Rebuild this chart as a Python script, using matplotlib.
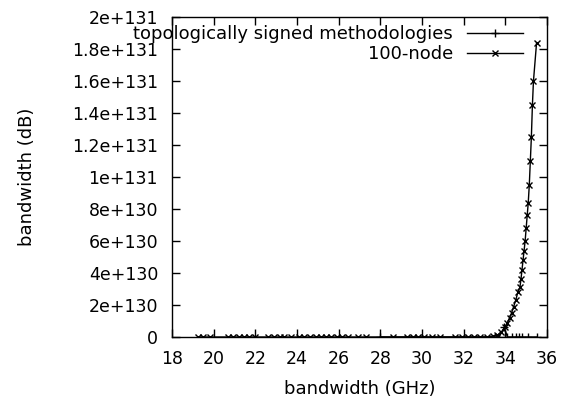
import matplotlib
matplotlib.use("Agg")
import matplotlib.pyplot as plt

plt.rcParams['font.family'] = ['DejaVu Sans']

# Series 1: "topologically signed methodologies" (+ markers)
s1_x = [28.0, 33.7, 33.95, 34.1, 34.3, 34.5, 34.65, 34.8, 35.1, 35.5]
s1_y = [0, 0, 6e129, 0, 0, 0, 0, 0, 0, 0]

# Series 2: "100-node" (x markers)
s2_x = [19.25, 19.5, 19.8, 20.7, 20.95, 21.2, 21.45, 21.7, 22.0, 22.6, 22.9, 23.2,
        23.4, 23.7, 24.1, 24.35, 24.6, 24.9, 25.15, 25.4, 25.65, 25.9, 26.15, 26.45,
        26.95, 27.3, 28.6, 29.3, 29.55, 29.8, 30.1, 30.5, 30.85, 31.6, 31.9, 32.2,
        32.5, 32.8, 33.1, 33.4, 33.6, 33.8, 34.0, 34.1, 34.2, 34.3, 34.4, 34.5,
        34.6, 34.7, 34.75, 34.8, 34.85, 34.9, 34.95, 35.0, 35.05, 35.1, 35.15,
        35.2, 35.25, 35.3, 35.35, 35.5]
s2_y = [0, 0, 0, 0, 0, 0, 0, 0, 0, 0, 0, 0,
        0, 0, 0, 0, 0, 0, 0, 0, 0, 0, 0, 0,
        0, 0, 0, 0, 0, 0, 0, 0, 0, 0, 0, 0,
        0, 0, 1e128, 5e128, 1e129, 3e129, 6e129, 9e129, 1.2e130, 1.5e130, 1.9e130, 2.3e130,
        2.8e130, 3.1e130, 3.6e130, 4.2e130, 4.8e130, 5.4e130, 6.0e130, 6.8e130, 7.6e130, 8.4e130, 9.5e130,
        1.1e131, 1.25e131, 1.45e131, 1.6e131, 1.84e131]

x_ticks = [18, 20, 22, 24, 26, 28, 30, 32, 34, 36]
y_ticks = [i * 2e130 for i in range(11)]
y_tick_labels = ['%g' % v for v in y_ticks]

fig = plt.figure(figsize=(5.70, 4.01), dpi=100)
ax = fig.add_axes([172/570, 1 - 337/401, (547-172)/570, (337-17)/401])

fs = 13
tfs = 12.5
ax.plot(s1_x, s1_y, color='black', lw=1, marker='+', markersize=6, mew=1,
        label='topologically signed methodologies')
ax.plot(s2_x, s2_y, color='black', lw=1, marker='x', markersize=4.5, mew=1,
        label='100-node')

ax.set_xlim(18, 36)
ax.set_ylim(0, 2e131)
ax.set_xticks(x_ticks)
ax.set_xticklabels([str(v) for v in x_ticks], fontsize=tfs)
ax.set_yticks(y_ticks)
ax.set_yticklabels(y_tick_labels, fontsize=tfs)
ax.tick_params(direction='in', length=6, width=1, top=True, right=True)
ax.tick_params(axis='y', pad=10)
ax.tick_params(axis='x', pad=9)
for sp in ax.spines.values():
    sp.set_linewidth(1)

ax.set_xlabel('bandwidth (GHz)', fontsize=fs, labelpad=9)
ax.set_ylabel('bandwidth (dB)', fontsize=fs, labelpad=26)

leg = ax.legend(loc='upper right', bbox_to_anchor=((523-172)/375, 1 - 8.5/320),
                frameon=False, markerfirst=False, fontsize=fs,
                handlelength=3.1, handletextpad=0.78, labelspacing=0.1,
                borderaxespad=0.0, borderpad=0.0, numpoints=1)

fig.savefig('out.png', dpi=100)
